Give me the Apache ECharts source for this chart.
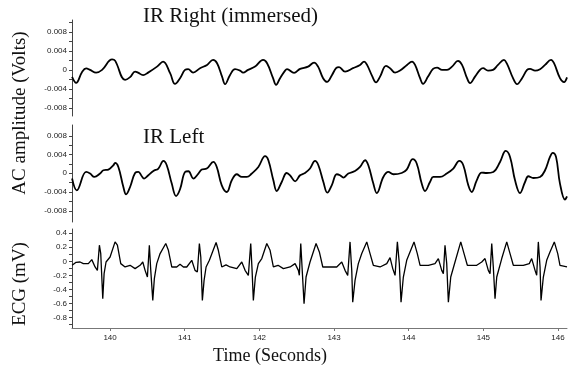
<!DOCTYPE html>
<html>
<head>
<meta charset="utf-8">
<script src="https://cdn.jsdelivr.net/npm/echarts@6/dist/echarts.min.js"></script>
<style>
  html, body { margin: 0; padding: 0; background: #fff; }
  #chart { width: 568px; height: 366px; }
</style>
</head>
<body>
<div id="chart"></div>
<script>
// time stamps (s) and amplitudes
const irRightTime = [139.491,139.545,139.625,139.679,139.732,139.813,139.893,140.027,140.067,140.201,
  140.268,140.335,140.375,140.442,140.509,140.629,140.710,140.804,140.870,140.937,
  141.004,141.045,141.112,141.205,141.299,141.379,141.433,141.500,141.540,141.607,
  141.674,141.741,141.781,141.848,141.942,142.049,142.103,142.183,142.223,142.277,
  142.344,142.370,142.464,142.545,142.652,142.732,142.786,142.853,142.906,142.973,
  143.027,143.067,143.147,143.254,143.348,143.402,143.442,143.509,143.562,143.616,
  143.696,143.750,143.817,143.884,143.977,144.044,144.085,144.152,144.192,144.259,
  144.326,144.379,144.446,144.513,144.580,144.660,144.714,144.781,144.821,144.888,
  144.955,144.995,145.062,145.129,145.196,145.276,145.317,145.397,145.451,145.518,
  145.585,145.625,145.692,145.759,145.826,145.906,145.946,146.026,146.080,146.120];
const irRightVolts = [-0.00147,-0.00273,-0.00042,0.00032,0,-0.00057,0,0.0022,0.00195,-0.0021,
  -0.00153,-0.00036,-0.00057,-0.00111,-0.00057,0.00069,0.00174,-0.00069,-0.00294,-0.00174,
  0,0.00015,-0.00057,0.00036,0.00105,0.0021,0.00141,-0.00141,-0.003,-0.00105,
  0.00015,-0.00015,-0.00057,0,0.00069,0.0021,0.00141,-0.00174,-0.00315,-0.00174,
  -0.00015,0.00015,-0.00063,0.00021,0.00069,0.00153,0.00069,-0.00174,-0.00252,-0.00105,
  0.00036,0.00057,-0.00036,0.00036,0.00105,0.00174,0.00105,-0.00126,-0.00263,-0.00141,
  0.00084,0.00036,-0.00057,-0.00015,0.00105,0.00174,0.00105,-0.00174,-0.00294,-0.00141,
  0.00021,0.00048,0,0,0.00069,0.00189,0.00105,-0.00174,-0.00279,-0.00141,
  0,0.00036,-0.00015,0,0.00105,0.0021,0.00126,-0.00174,-0.003,-0.00174,
  0,0.00021,-0.00015,0.00015,0.00105,0.0021,0.00141,-0.00174,-0.00258,-0.00158];

const irLeftTime = [139.491,139.554,139.679,139.732,139.790,139.866,139.910,139.977,140.044,140.067,
  140.111,140.178,140.214,140.268,140.335,140.379,140.425,140.455,140.513,140.580,
  140.647,140.714,140.759,140.826,140.884,140.937,141.004,141.049,141.116,141.183,
  141.228,141.295,141.383,141.429,141.496,141.563,141.630,141.697,141.764,141.831,
  141.898,141.986,142.076,142.120,142.187,142.232,142.299,142.366,142.411,142.478,
  142.545,142.611,142.678,142.745,142.790,142.857,142.910,142.969,143.036,143.080,
  143.124,143.191,143.281,143.348,143.415,143.459,143.526,143.572,143.660,143.727,
  143.794,143.906,143.973,144.054,144.107,144.174,144.218,144.285,144.330,144.419,
  144.509,144.597,144.678,144.731,144.798,144.844,144.911,144.978,145.045,145.133,
  145.223,145.299,145.357,145.424,145.491,145.558,145.602,145.669,145.759,145.826,
  145.892,145.929,145.973,146.026,146.093,146.120];
const irLeftVolts = [-0.00113,-0.00364,0.00028,-0.00006,-0.00079,-0.00006,0.00064,0.00079,0.00171,0.0022,
  0.00135,-0.00293,-0.00449,-0.00293,0.00006,0.00028,-0.00064,-0.00113,-0.00043,0.00049,
  0.00101,0.00263,0.00171,-0.0022,-0.00486,-0.00342,0.00028,0.00043,-0.00113,-0.00006,
  0.00079,0.00101,0.00242,0.00135,-0.00257,-0.004,-0.0015,-0.00021,-0.00079,-0.00079,
  -0.00006,0.00135,0.00364,0.00278,-0.0015,-0.00379,-0.00186,0.00006,-0.00043,-0.00171,
  -0.00043,0.00006,0.00101,0.00263,0.00171,-0.00186,-0.00413,-0.00257,-0.00021,-0.00043,
  -0.00092,-0.00006,0.00049,0.00135,0.00278,0.00171,-0.0022,-0.00422,-0.00079,0.00028,
  -0.00021,0.00006,0.00079,0.003,0.00208,-0.0022,-0.00379,-0.00186,-0.00079,-0.00079,
  -0.00006,0.00101,0.00263,0.00171,-0.00257,-0.004,-0.0015,0.00015,0.00006,0.00028,
  0.00242,0.00477,0.00349,-0.0015,-0.00422,-0.00186,-0.00064,-0.00101,-0.00079,0.00064,
  0.00349,0.00434,0.00349,-0.0022,-0.00563,-0.00492];

const ecgTime = [139.491,139.545,139.598,139.642,139.709,139.755,139.799,139.830,139.857,139.875,
  139.902,139.920,139.946,140.000,140.067,140.098,140.143,140.201,140.268,140.335,
  140.402,140.438,140.469,140.500,140.526,140.545,140.572,140.593,140.625,140.670,
  140.746,140.781,140.826,140.893,140.937,140.982,141.027,141.094,141.138,141.169,
  141.196,141.215,141.236,141.259,141.286,141.330,141.420,141.450,141.496,141.553,
  141.607,141.697,141.764,141.808,141.852,141.884,141.902,141.919,141.946,141.986,
  142.032,142.099,142.143,142.187,142.250,142.321,142.411,142.478,142.522,142.535,
  142.554,142.581,142.598,142.625,142.678,142.759,142.803,142.849,142.946,143.036,
  143.103,143.147,143.183,143.214,143.237,143.250,143.281,143.325,143.371,143.438,
  143.482,143.526,143.616,143.706,143.750,143.786,143.817,143.848,143.874,143.897,
  143.928,143.973,144.071,144.115,144.152,144.263,144.352,144.397,144.442,144.464,
  144.486,144.509,144.531,144.563,144.620,144.697,144.741,144.785,144.911,144.978,
  145.022,145.066,145.089,145.112,145.133,145.156,145.179,145.246,145.313,145.357,
  145.401,145.535,145.615,145.647,145.692,145.714,145.736,145.759,145.772,145.803,
  145.848,145.892,145.950,145.996,146.026,146.120];
const ecgMv = [-0.057,-0.014,-0.01,-0.033,-0.033,0.024,-0.081,-0.129,0.229,0.11,
  -0.533,-0.176,-0.01,0.061,0.276,0.229,-0.033,-0.081,-0.057,-0.104,
  -0.057,-0.01,-0.129,-0.224,0.229,-0.129,-0.557,-0.247,-0.033,0.11,
  0.253,0.157,-0.081,-0.081,-0.043,-0.081,-0.081,0.014,-0.129,-0.153,
  0.253,0.061,-0.557,-0.272,-0.081,0.014,0.267,0.157,-0.081,-0.05,
  -0.081,-0.104,-0.01,-0.129,-0.2,0.253,-0.129,-0.557,-0.224,-0.033,
  0.039,0.253,0.157,-0.081,-0.057,-0.104,-0.081,-0.033,-0.129,-0.2,
  0.253,-0.272,-0.604,-0.224,-0.01,0.253,0.133,-0.081,-0.081,-0.081,
  -0.01,-0.129,-0.2,0.276,-0.129,-0.582,-0.272,-0.033,0.11,0.276,
  0.11,-0.057,-0.081,-0.033,0.053,-0.104,-0.2,0.276,-0.033,-0.582,
  -0.224,0.014,0.276,0.11,-0.057,-0.057,-0.033,0.039,-0.129,-0.176,
  0.229,-0.033,-0.582,-0.224,-0.01,0.276,0.11,-0.057,-0.057,-0.01,
  0.039,-0.129,-0.176,0.253,-0.081,-0.533,-0.224,0.039,0.276,0.11,
  -0.057,-0.057,-0.033,0.039,-0.129,-0.2,0.276,-0.081,-0.557,-0.224,
  0.014,0.133,0.276,0.11,-0.057,-0.081];

// tick marks and labels
const timeLabels = [140, 141, 142, 143, 144, 145, 146];
const irTicks = [-0.008, -0.006, -0.004, -0.002, 0, 0.002, 0.004, 0.006, 0.008, 0.01];
const irLabels = [-0.008, -0.004, 0, 0.004, 0.008];
const ecgTicks = [-0.9, -0.8, -0.7, -0.6, -0.5, -0.4, -0.3, -0.2, -0.1, 0, 0.1, 0.2, 0.3, 0.4];
const ecgLabels = [-0.8, -0.6, -0.4, -0.2, 0, 0.2, 0.4];

const zip = (xs, ys) => xs.map((x, i) => [x, ys[i]]);

const tickFont = "'Liberation Sans Narrow', 'Arial Narrow', 'Liberation Sans', sans-serif";
const serif = "'Liberation Serif', 'Times New Roman', serif";

function yAxis(gridIndex, min, max, ticks, labels) {
  return {
    type: "value",
    gridIndex: gridIndex,
    min: min,
    max: max,
    axisLine: { show: true, onZero: false, lineStyle: { color: "#444", width: 1 } },
    axisTick: { show: true, length: 3, customValues: ticks, lineStyle: { color: "#444" } },
    axisLabel: { customValues: labels, fontSize: 8, fontFamily: tickFont, color: "#222", margin: 5 },
    splitLine: { show: false },
  };
}

function hiddenX(gridIndex) {
  return { type: "value", gridIndex: gridIndex, min: 139.49, max: 146.12, show: false };
}

const chart = echarts.init(document.getElementById("chart"));

const options = {
  animation: false,
  backgroundColor: "#fff",
  grid: [
    { left: 72, right: 1, top: 20, height: 96 },
    { left: 72, right: 1, top: 125, height: 97 },
    { left: 72, right: 1, top: 229, height: 99 },
  ],
  xAxis: [
    hiddenX(0),
    hiddenX(1),
    {
      type: "value",
      gridIndex: 2,
      min: 139.49,
      max: 146.12,
      axisLine: { show: true, onZero: false, lineStyle: { color: "#777", width: 1 } },
      axisTick: { show: true, length: 3, customValues: timeLabels, lineStyle: { color: "#777" } },
      axisLabel: { customValues: timeLabels, fontSize: 8, fontFamily: tickFont, color: "#222", margin: 6 },
      splitLine: { show: false },
    },
  ],
  yAxis: [
    yAxis(0, -0.0097, 0.0105, irTicks, irLabels),
    yAxis(1, -0.0104, 0.0103, irTicks.slice(0, 9), irLabels),
    yAxis(2, -0.95, 0.46, ecgTicks, ecgLabels),
  ],
  graphic: [
    { type: "text", x: 143, y: 16, style: { text: "IR Right (immersed)", font: "21px " + serif, fill: "#111", textVerticalAlign: "middle" } },
    { type: "text", x: 143, y: 137, style: { text: "IR Left", font: "21px " + serif, fill: "#111", textVerticalAlign: "middle" } },
    { type: "text", x: 270, y: 356, style: { text: "Time (Seconds)", font: "18px " + serif, fill: "#111", textAlign: "center", textVerticalAlign: "middle" } },
    { type: "text", x: 20, y: 113, rotation: Math.PI / 2, style: { text: "AC amplitude (Volts)", font: "19px " + serif, fill: "#111", textAlign: "center", textVerticalAlign: "middle" } },
    { type: "text", x: 20, y: 284, rotation: Math.PI / 2, style: { text: "ECG (mV)", font: "19px " + serif, fill: "#111", textAlign: "center", textVerticalAlign: "middle" } },
  ],
  series: [
    {
      name: "IR Right",
      type: "line",
      xAxisIndex: 0,
      yAxisIndex: 0,
      data: zip(irRightTime, irRightVolts),
      showSymbol: false,
      smooth: 0.4,
      lineStyle: { color: "#000", width: 1.8 },
    },
    {
      name: "IR Left",
      type: "line",
      xAxisIndex: 1,
      yAxisIndex: 1,
      data: zip(irLeftTime, irLeftVolts),
      showSymbol: false,
      smooth: 0.4,
      lineStyle: { color: "#000", width: 1.8 },
    },
    {
      name: "ECG",
      type: "line",
      xAxisIndex: 2,
      yAxisIndex: 2,
      data: zip(ecgTime, ecgMv),
      showSymbol: false,
      lineStyle: { color: "#000", width: 1.3 },
    },
  ],
};

chart.setOption(options);
</script>
</body>
</html>
